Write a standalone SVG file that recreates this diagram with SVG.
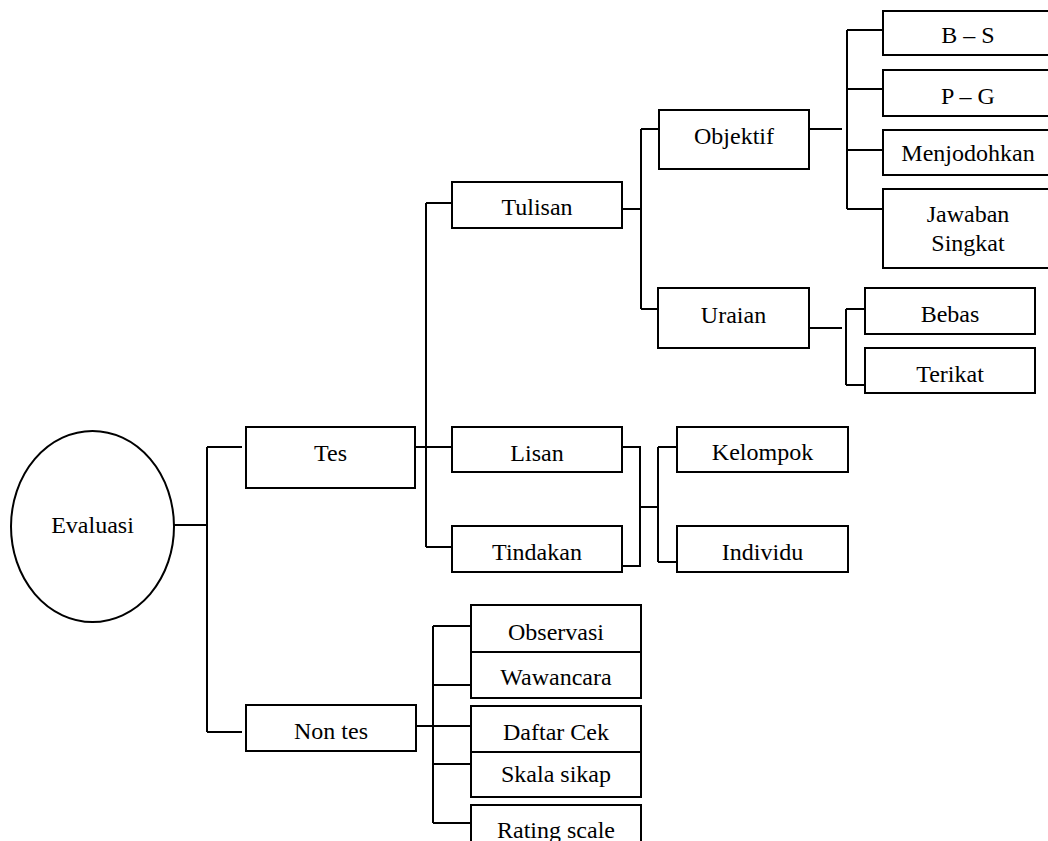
<svg xmlns="http://www.w3.org/2000/svg" width="1048" height="841" viewBox="0 0 1048 841" font-family="'Liberation Serif', 'Times New Roman', 'DejaVu Serif', serif" font-size="24">
<style>
.b{fill:#fff;stroke:#000;stroke-width:2}
.c{fill:none;stroke:#000;stroke-width:2}
.t{font-family:'Liberation Serif','Times New Roman','DejaVu Serif',serif;font-size:24px;fill:#000;text-anchor:middle}
</style>
<rect width="1048" height="841" fill="#fff"/>
<g id="connectors" class="c">
<path d="M174 525H207M207 447V732M207 447H242M207 732H242"/>
<path d="M415 447H426M426 203V547M426 203H452M426 447H452M426 547H452"/>
<path d="M621 209H641M641 129V309M641 129H659M641 309H658"/>
<path d="M809 129H842M847 30V209M847 30H883M847 89H883M847 150H883M847 209H883"/>
<path d="M809 328H842M846 309V385M846 309H865M846 385H865"/>
<path d="M620 447H640V566H620M640 507H658M658 447V562M658 447H677M658 562H677"/>
<path d="M415 726H470M433 626V823M433 626H470M433 685H470M433 764H470M433 823H470"/>
</g>
<g id="evaluasi"><ellipse class="b" cx="92.5" cy="526.5" rx="81.5" ry="95.5"/><text class="t" x="92.5" y="533">Evaluasi</text></g>
<g id="tes"><rect class="b" x="246" y="427" width="169" height="61"/><text class="t" x="330.5" y="461">Tes</text></g>
<g id="nontes"><rect class="b" x="246" y="705" width="170" height="46"/><text class="t" x="331" y="739">Non tes</text></g>
<g id="tulisan"><rect class="b" x="452" y="182" width="170" height="46"/><text class="t" x="537" y="215">Tulisan</text></g>
<g id="lisan"><rect class="b" x="452" y="427" width="170" height="45"/><text class="t" x="537" y="461">Lisan</text></g>
<g id="tindakan"><rect class="b" x="452" y="526" width="170" height="46"/><text class="t" x="537" y="560">Tindakan</text></g>
<g id="objektif"><rect class="b" x="659" y="110" width="150" height="59"/><text class="t" x="734" y="144">Objektif</text></g>
<g id="uraian"><rect class="b" x="658" y="288" width="151" height="60"/><text class="t" x="733.5" y="323">Uraian</text></g>
<g id="kelompok"><rect class="b" x="677" y="427" width="171" height="45"/><text class="t" x="762.5" y="460">Kelompok</text></g>
<g id="individu"><rect class="b" x="677" y="526" width="171" height="46"/><text class="t" x="762.5" y="560">Individu</text></g>
<g id="bs"><rect class="b" x="883" y="11" width="170" height="44"/><text class="t" x="968" y="43">B – S</text></g>
<g id="pg"><rect class="b" x="883" y="70" width="170" height="46"/><text class="t" x="968" y="104">P – G</text></g>
<g id="menjodohkan"><rect class="b" x="883" y="130" width="170" height="45"/><text class="t" x="968" y="161">Menjodohkan</text></g>
<g id="jawaban"><rect class="b" x="883" y="189" width="170" height="79"/><text class="t" x="968" y="222">Jawaban</text><text class="t" x="968" y="251">Singkat</text></g>
<g id="bebas"><rect class="b" x="865" y="288" width="170" height="46"/><text class="t" x="950" y="322">Bebas</text></g>
<g id="terikat"><rect class="b" x="865" y="348" width="170" height="45"/><text class="t" x="950" y="382">Terikat</text></g>
<g id="observasi"><rect class="b" x="471" y="605" width="170" height="47"/><text class="t" x="556" y="640">Observasi</text></g>
<g id="wawancara"><rect class="b" x="471" y="652" width="170" height="46"/><text class="t" x="556" y="685">Wawancara</text></g>
<g id="daftarcek"><rect class="b" x="471" y="706" width="170" height="46"/><text class="t" x="556" y="740">Daftar Cek</text></g>
<g id="skalasikap"><rect class="b" x="471" y="752" width="170" height="45"/><text class="t" x="556" y="782">Skala sikap</text></g>
<g id="ratingscale"><rect class="b" x="471" y="805" width="170" height="45"/><text class="t" x="556" y="838">Rating scale</text></g>
</svg>
